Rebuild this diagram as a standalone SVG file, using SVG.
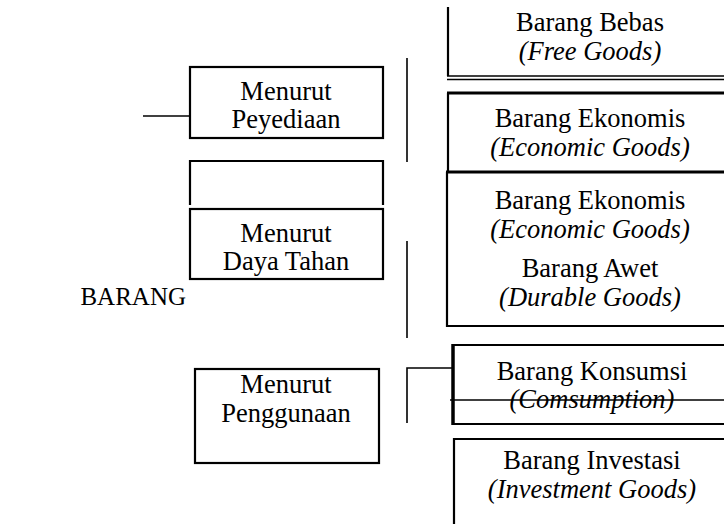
<svg xmlns="http://www.w3.org/2000/svg" width="724" height="524" viewBox="0 0 724 524">
<style>
  .t { font-size: 26.5px; fill: #000; text-anchor: middle; }
  .i { font-style: italic; }
  .box { fill: none; stroke: #000; stroke-width: 2.2; }
  .thick { fill: none; stroke: #000; stroke-width: 3.2; }
  .ln { fill: none; stroke: #000; stroke-width: 1.6; }
</style>
<rect width="724" height="524" fill="#fff"/>
<g id="connectors">
  <line class="ln" x1="143" y1="116" x2="190" y2="116"/>
  <line class="ln" x1="407" y1="58" x2="407" y2="162"/>
  <line class="ln" x1="407" y1="241" x2="407" y2="338"/>
  <path class="ln" d="M407,423 V368 H452"/>
</g>
<g font-family="'Liberation Serif', 'Times New Roman', Times, serif">
<g id="barang">
  <text class="t" x="186" y="305" style="text-anchor:end;font-size:25px">BARANG</text>
</g>
<g id="menurut-peyediaan">
  <rect class="box" x="190" y="67" width="193" height="71"/>
  <text class="t" x="286" y="100">Menurut</text>
  <text class="t" x="286" y="128">Peyediaan</text>
</g>
<g id="empty-box">
  <path class="box" d="M190,205 V161 H383 V205"/>
</g>
<g id="menurut-daya-tahan">
  <rect class="box" x="190" y="209" width="193" height="70"/>
  <text class="t" x="286" y="242">Menurut</text>
  <text class="t" x="286" y="270">Daya Tahan</text>
</g>
<g id="menurut-penggunaan">
  <rect class="box" x="195" y="369" width="184" height="94"/>
  <text class="t" x="286" y="393">Menurut</text>
  <text class="t" x="286" y="422">Penggunaan</text>
</g>
<g id="barang-bebas">
  <path class="box" d="M448,7 V76"/>
  <line class="ln" x1="447" y1="76" x2="724" y2="76"/>
  <line class="ln" x1="447" y1="79.5" x2="724" y2="79.5"/>
  <text class="t" x="590" y="31">Barang Bebas</text>
  <text class="t i" x="590" y="60">(Free Goods)</text>
</g>
<g id="barang-ekonomis-1">
  <path class="box" d="M448,172 V93"/>
  <line class="thick" x1="447" y1="93" x2="724" y2="93"/>
  <text class="t" x="590" y="127">Barang Ekonomis</text>
  <text class="t i" x="590" y="156">(Economic Goods)</text>
</g>
<g id="barang-ekonomis-awet">
  <path class="box" d="M447,172 V326 H724"/>
  <line class="thick" x1="446" y1="172" x2="724" y2="172"/>
  <text class="t" x="590" y="209">Barang Ekonomis</text>
  <text class="t i" x="590" y="238">(Economic Goods)</text>
  <text class="t" x="590" y="277">Barang Awet</text>
  <text class="t i" x="590" y="306">(Durable Goods)</text>
</g>
<g id="barang-konsumsi">
  <path class="box" d="M452,345 H724 M452,424 H724"/>
  <line x1="453" y1="344" x2="453" y2="425" stroke="#000" stroke-width="3.5"/>
  <text class="t" x="592" y="380">Barang Konsumsi</text>
  <text class="t i" x="592" y="408">(Comsumption)</text>
  <line class="ln" x1="450" y1="400" x2="724" y2="400"/>
</g>
<g id="barang-investasi">
  <path class="box" d="M454,524 V439 H724"/>
  <text class="t" x="592" y="469">Barang Investasi</text>
  <text class="t i" x="592" y="498">(Investment Goods)</text>
</g>
</g>
</svg>
